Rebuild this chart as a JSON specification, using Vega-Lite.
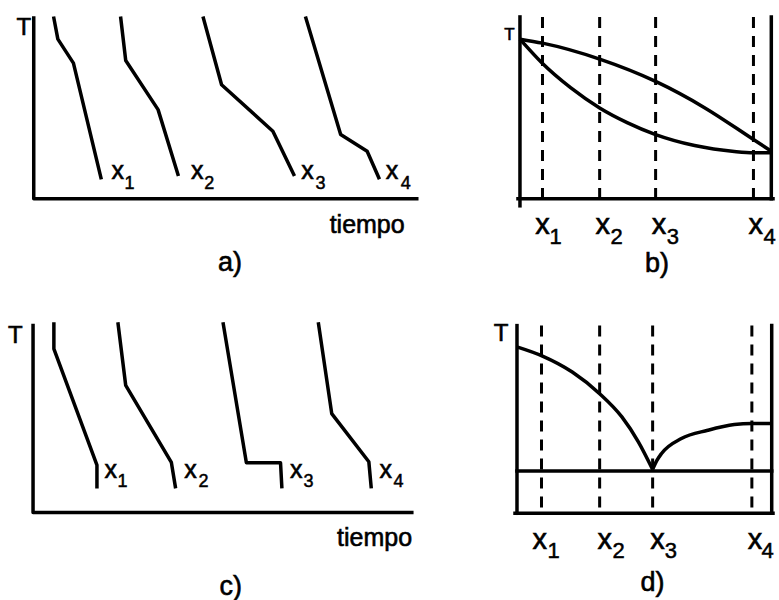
{
  "$schema": "https://vega.github.io/schema/vega-lite/v6.json",
  "width": 779,
  "height": 600,
  "autosize": {"type": "fit", "contains": "padding"},
  "padding": 0,
  "background": "white",
  "config": {"view": {"stroke": null}},
  "datasets": {
    "polylines": [
      {"id": "a-axes", "i": 0, "x": 34, "y": 18},
      {"id": "a-axes", "i": 1, "x": 34, "y": 199.5},
      {"id": "a-axes", "i": 2, "x": 420, "y": 199.5},
      {"id": "a-x1", "i": 0, "x": 54.3, "y": 18.3},
      {"id": "a-x1", "i": 1, "x": 58.3, "y": 39.3},
      {"id": "a-x1", "i": 2, "x": 74, "y": 63.3},
      {"id": "a-x1", "i": 3, "x": 101.7, "y": 178.3},
      {"id": "a-x2", "i": 0, "x": 121.7, "y": 18.3},
      {"id": "a-x2", "i": 1, "x": 126.7, "y": 60.7},
      {"id": "a-x2", "i": 2, "x": 159.3, "y": 110},
      {"id": "a-x2", "i": 3, "x": 179.3, "y": 175},
      {"id": "a-x3", "i": 0, "x": 205, "y": 18.3},
      {"id": "a-x3", "i": 1, "x": 223.3, "y": 85},
      {"id": "a-x3", "i": 2, "x": 275, "y": 131.7},
      {"id": "a-x3", "i": 3, "x": 296, "y": 175},
      {"id": "a-x4", "i": 0, "x": 308.3, "y": 18.3},
      {"id": "a-x4", "i": 1, "x": 343.3, "y": 135},
      {"id": "a-x4", "i": 2, "x": 370, "y": 151.7},
      {"id": "a-x4", "i": 3, "x": 381.7, "y": 178.3},
      {"id": "b-left", "i": 0, "x": 524, "y": 17},
      {"id": "b-left", "i": 1, "x": 524, "y": 206.5},
      {"id": "b-bottom", "i": 0, "x": 522, "y": 199.5},
      {"id": "b-bottom", "i": 1, "x": 779, "y": 199.5},
      {"id": "b-right", "i": 0, "x": 777.3, "y": 17},
      {"id": "b-right", "i": 1, "x": 777.3, "y": 199.5},
      {"id": "c-axes", "i": 0, "x": 33.3, "y": 326.7},
      {"id": "c-axes", "i": 1, "x": 33.3, "y": 514.3},
      {"id": "c-axes", "i": 2, "x": 415, "y": 514.3},
      {"id": "c-x1", "i": 0, "x": 54.3, "y": 325},
      {"id": "c-x1", "i": 1, "x": 54.3, "y": 350},
      {"id": "c-x1", "i": 2, "x": 97.7, "y": 466.7},
      {"id": "c-x1", "i": 3, "x": 97.7, "y": 488.3},
      {"id": "c-x2", "i": 0, "x": 119, "y": 325},
      {"id": "c-x2", "i": 1, "x": 126.7, "y": 386.7},
      {"id": "c-x2", "i": 2, "x": 172.7, "y": 464},
      {"id": "c-x2", "i": 3, "x": 176.7, "y": 488.3},
      {"id": "c-x3", "i": 0, "x": 225, "y": 325},
      {"id": "c-x3", "i": 1, "x": 248.3, "y": 464.3},
      {"id": "c-x3", "i": 2, "x": 282.7, "y": 464.3},
      {"id": "c-x3", "i": 3, "x": 284, "y": 488.3},
      {"id": "c-x4", "i": 0, "x": 321, "y": 325},
      {"id": "c-x4", "i": 1, "x": 334.3, "y": 415},
      {"id": "c-x4", "i": 2, "x": 371.7, "y": 463.3},
      {"id": "c-x4", "i": 3, "x": 374, "y": 488.3},
      {"id": "d-left", "i": 0, "x": 521, "y": 326.7},
      {"id": "d-left", "i": 1, "x": 521, "y": 515},
      {"id": "d-bottom", "i": 0, "x": 519, "y": 515},
      {"id": "d-bottom", "i": 1, "x": 779, "y": 515},
      {"id": "d-right", "i": 0, "x": 777.7, "y": 326.7},
      {"id": "d-right", "i": 1, "x": 777.7, "y": 515},
      {"id": "d-eutectic", "i": 0, "x": 521, "y": 472.7},
      {"id": "d-eutectic", "i": 1, "x": 777.7, "y": 472.7}
    ],
    "curves": [
      {"id": "b-liquidus", "i": 0, "x": 524, "y": 39.3},
      {"id": "b-liquidus", "i": 1, "x": 546.7, "y": 43.3},
      {"id": "b-liquidus", "i": 2, "x": 604.3, "y": 59.3},
      {"id": "b-liquidus", "i": 3, "x": 660.7, "y": 81.7},
      {"id": "b-liquidus", "i": 4, "x": 710, "y": 108},
      {"id": "b-liquidus", "i": 5, "x": 759.3, "y": 140},
      {"id": "b-liquidus", "i": 6, "x": 777.3, "y": 151.7},
      {"id": "b-solidus", "i": 0, "x": 524, "y": 39.3},
      {"id": "b-solidus", "i": 1, "x": 546, "y": 63},
      {"id": "b-solidus", "i": 2, "x": 575, "y": 88},
      {"id": "b-solidus", "i": 3, "x": 604.3, "y": 108.3},
      {"id": "b-solidus", "i": 4, "x": 632, "y": 123},
      {"id": "b-solidus", "i": 5, "x": 660.7, "y": 135},
      {"id": "b-solidus", "i": 6, "x": 700, "y": 146},
      {"id": "b-solidus", "i": 7, "x": 740, "y": 152},
      {"id": "b-solidus", "i": 8, "x": 759.3, "y": 153.3},
      {"id": "b-solidus", "i": 9, "x": 777.3, "y": 153.3},
      {"id": "d-liquidus-A", "i": 0, "x": 521.7, "y": 348.3},
      {"id": "d-liquidus-A", "i": 1, "x": 546.7, "y": 357.3},
      {"id": "d-liquidus-A", "i": 2, "x": 576.7, "y": 373.3},
      {"id": "d-liquidus-A", "i": 3, "x": 604.3, "y": 395},
      {"id": "d-liquidus-A", "i": 4, "x": 626.7, "y": 418.3},
      {"id": "d-liquidus-A", "i": 5, "x": 643.3, "y": 443.3},
      {"id": "d-liquidus-A", "i": 6, "x": 657.7, "y": 471},
      {"id": "d-liquidus-B", "i": 0, "x": 657.7, "y": 471},
      {"id": "d-liquidus-B", "i": 1, "x": 662, "y": 462},
      {"id": "d-liquidus-B", "i": 2, "x": 666.7, "y": 455},
      {"id": "d-liquidus-B", "i": 3, "x": 686.7, "y": 440},
      {"id": "d-liquidus-B", "i": 4, "x": 713.3, "y": 431.7},
      {"id": "d-liquidus-B", "i": 5, "x": 740, "y": 426},
      {"id": "d-liquidus-B", "i": 6, "x": 757.7, "y": 425},
      {"id": "d-liquidus-B", "i": 7, "x": 777.7, "y": 425}
    ],
    "compositions": [
      {"panel": "b", "comp": "x1", "x": 546.7, "y": 17, "y2": 199.5},
      {"panel": "b", "comp": "x2", "x": 604.3, "y": 17, "y2": 199.5},
      {"panel": "b", "comp": "x3", "x": 660.7, "y": 17, "y2": 199.5},
      {"panel": "b", "comp": "x4", "x": 759.3, "y": 17, "y2": 206.5},
      {"panel": "d", "comp": "x1", "x": 545.7, "y": 326.7, "y2": 515},
      {"panel": "d", "comp": "x2", "x": 604.3, "y": 326.7, "y2": 515},
      {"panel": "d", "comp": "x3", "x": 657.7, "y": 326.7, "y2": 515},
      {"panel": "d", "comp": "x4", "x": 757.7, "y": 326.7, "y2": 515}
    ],
    "labels": [
      {"panel": "a", "kind": "var", "text": "x", "x": 118.7, "y": 180},
      {"panel": "a", "kind": "var", "text": "x", "x": 198.8, "y": 180},
      {"panel": "a", "kind": "var", "text": "x", "x": 310, "y": 180},
      {"panel": "a", "kind": "var", "text": "x", "x": 395, "y": 180},
      {"panel": "a", "kind": "sub", "text": "1", "x": 130.5, "y": 189.3},
      {"panel": "a", "kind": "sub", "text": "2", "x": 211, "y": 189.3},
      {"panel": "a", "kind": "sub", "text": "3", "x": 323, "y": 189.3},
      {"panel": "a", "kind": "sub", "text": "4", "x": 409, "y": 189.3},
      {"panel": "b", "kind": "var", "text": "x", "x": 546.7, "y": 235},
      {"panel": "b", "kind": "var", "text": "x", "x": 607.5, "y": 235},
      {"panel": "b", "kind": "var", "text": "x", "x": 664, "y": 235},
      {"panel": "b", "kind": "var", "text": "x", "x": 761.7, "y": 235},
      {"panel": "b", "kind": "sub", "text": "1", "x": 560, "y": 245},
      {"panel": "b", "kind": "sub", "text": "2", "x": 621.5, "y": 245},
      {"panel": "b", "kind": "sub", "text": "3", "x": 678, "y": 245},
      {"panel": "b", "kind": "sub", "text": "4", "x": 775.5, "y": 245},
      {"panel": "c", "kind": "var", "text": "x", "x": 111.7, "y": 480},
      {"panel": "c", "kind": "var", "text": "x", "x": 192, "y": 480},
      {"panel": "c", "kind": "var", "text": "x", "x": 298.5, "y": 480},
      {"panel": "c", "kind": "var", "text": "x", "x": 388.8, "y": 480},
      {"panel": "c", "kind": "sub", "text": "1", "x": 123.5, "y": 489},
      {"panel": "c", "kind": "sub", "text": "2", "x": 205, "y": 489},
      {"panel": "c", "kind": "sub", "text": "3", "x": 311, "y": 489},
      {"panel": "c", "kind": "sub", "text": "4", "x": 401.7, "y": 489},
      {"panel": "d", "kind": "var", "text": "x", "x": 544, "y": 551},
      {"panel": "d", "kind": "var", "text": "x", "x": 609.5, "y": 551},
      {"panel": "d", "kind": "var", "text": "x", "x": 662.5, "y": 551},
      {"panel": "d", "kind": "var", "text": "x", "x": 760.8, "y": 551},
      {"panel": "d", "kind": "sub", "text": "1", "x": 558, "y": 560},
      {"panel": "d", "kind": "sub", "text": "2", "x": 623.5, "y": 560},
      {"panel": "d", "kind": "sub", "text": "3", "x": 676, "y": 560},
      {"panel": "d", "kind": "sub", "text": "4", "x": 773.5, "y": 560},
      {"panel": "a", "kind": "T", "text": "T", "x": 24, "y": 35},
      {"panel": "b", "kind": "Tsmall", "text": "T", "x": 513.5, "y": 40},
      {"panel": "c", "kind": "T", "text": "T", "x": 15.5, "y": 344},
      {"panel": "d", "kind": "T", "text": "T", "x": 505, "y": 341.7},
      {"panel": "a", "kind": "time", "text": "tiempo", "x": 370, "y": 233.3},
      {"panel": "c", "kind": "time", "text": "tiempo", "x": 377.5, "y": 548.3},
      {"panel": "a", "kind": "caption", "text": "a)", "x": 231.7, "y": 272},
      {"panel": "b", "kind": "caption", "text": "b)", "x": 662, "y": 273},
      {"panel": "c", "kind": "caption", "text": "c)", "x": 232.5, "y": 596.7},
      {"panel": "d", "kind": "caption", "text": "d)", "x": 657.5, "y": 593.3}
    ]
  },
  "encoding": {
    "x": {"field": "x", "type": "quantitative", "axis": null, "scale": {"domain": [0, 779], "nice": false, "zero": false}},
    "y": {"field": "y", "type": "quantitative", "axis": null, "scale": {"domain": [0, 600], "nice": false, "zero": false, "reverse": true}}
  },
  "layer": [
    {
      "data": {"name": "polylines"},
      "mark": {"type": "line", "color": "black", "strokeWidth": 3.5, "strokeCap": "square", "strokeJoin": "round"},
      "encoding": {"detail": {"field": "id"}, "order": {"field": "i", "type": "quantitative"}}
    },
    {
      "data": {"name": "curves"},
      "mark": {"type": "line", "color": "black", "strokeWidth": 3.5, "interpolate": "monotone", "strokeCap": "butt"},
      "encoding": {"detail": {"field": "id"}, "order": {"field": "i", "type": "quantitative"}}
    },
    {
      "data": {"name": "compositions"},
      "mark": {"type": "rule", "color": "black", "strokeWidth": 3, "strokeDash": [11, 8]},
      "encoding": {"y2": {"field": "y2"}}
    },
    {
      "data": {"name": "labels"},
      "transform": [{"filter": "datum.kind === 'var' && (datum.panel === 'a' || datum.panel === 'c')"}],
      "mark": {"type": "text", "font": "Liberation Sans", "fontSize": 25, "align": "center", "baseline": "alphabetic", "color": "black", "stroke": "black", "strokeWidth": 0.6},
      "encoding": {"text": {"field": "text"}}
    },
    {
      "data": {"name": "labels"},
      "transform": [{"filter": "datum.kind === 'var' && (datum.panel === 'b' || datum.panel === 'd')"}],
      "mark": {"type": "text", "font": "Liberation Sans", "fontSize": 29, "align": "center", "baseline": "alphabetic", "color": "black", "stroke": "black", "strokeWidth": 0.6},
      "encoding": {"text": {"field": "text"}}
    },
    {
      "data": {"name": "labels"},
      "transform": [{"filter": "datum.kind === 'sub' && (datum.panel === 'a' || datum.panel === 'c')"}],
      "mark": {"type": "text", "font": "Liberation Sans", "fontSize": 18, "align": "center", "baseline": "alphabetic", "color": "black", "stroke": "black", "strokeWidth": 0.5},
      "encoding": {"text": {"field": "text"}}
    },
    {
      "data": {"name": "labels"},
      "transform": [{"filter": "datum.kind === 'sub' && (datum.panel === 'b' || datum.panel === 'd')"}],
      "mark": {"type": "text", "font": "Liberation Sans", "fontSize": 22, "align": "center", "baseline": "alphabetic", "color": "black", "stroke": "black", "strokeWidth": 0.5},
      "encoding": {"text": {"field": "text"}}
    },
    {
      "data": {"name": "labels"},
      "transform": [{"filter": "datum.kind === 'T'"}],
      "mark": {"type": "text", "font": "Liberation Sans", "fontSize": 24, "align": "center", "baseline": "alphabetic", "color": "black", "stroke": "black", "strokeWidth": 0.6},
      "encoding": {"text": {"field": "text"}}
    },
    {
      "data": {"name": "labels"},
      "transform": [{"filter": "datum.kind === 'Tsmall'"}],
      "mark": {"type": "text", "font": "Liberation Sans", "fontSize": 17, "align": "center", "baseline": "alphabetic", "color": "black", "stroke": "black", "strokeWidth": 0.6},
      "encoding": {"text": {"field": "text"}}
    },
    {
      "data": {"name": "labels"},
      "transform": [{"filter": "datum.kind === 'time'"}],
      "mark": {"type": "text", "font": "Liberation Sans", "fontSize": 25, "align": "center", "baseline": "alphabetic", "color": "black", "stroke": "black", "strokeWidth": 0.6},
      "encoding": {"text": {"field": "text"}}
    },
    {
      "data": {"name": "labels"},
      "transform": [{"filter": "datum.kind === 'caption'"}],
      "mark": {"type": "text", "font": "Liberation Sans", "fontSize": 27, "align": "center", "baseline": "alphabetic", "color": "black", "stroke": "black", "strokeWidth": 0.6},
      "encoding": {"text": {"field": "text"}}
    }
  ]
}
